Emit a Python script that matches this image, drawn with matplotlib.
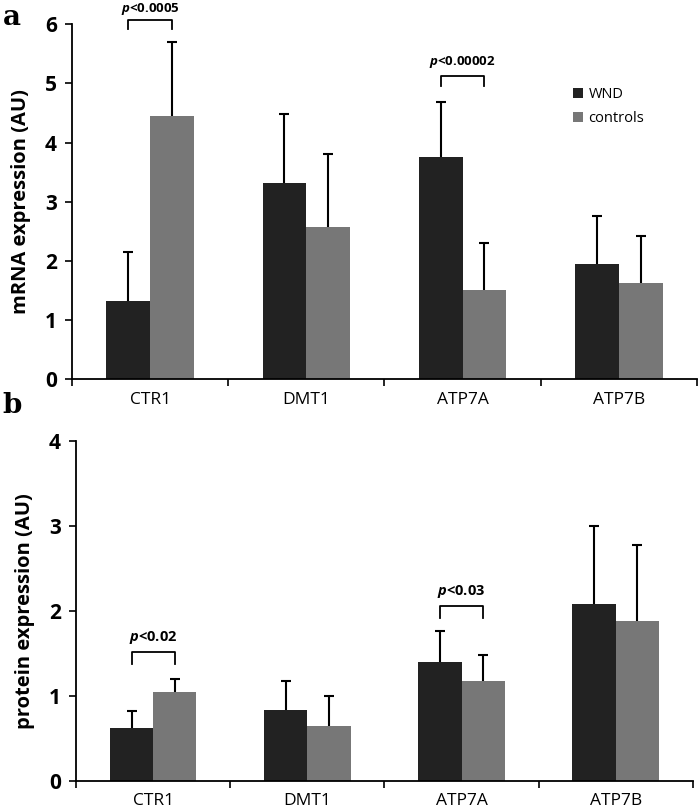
import numpy as np
import matplotlib
matplotlib.use("Agg")
from matplotlib import pyplot as plt

plt.rcParams['font.family'] = ['Open Sans', 'DejaVu Sans']
plt.rcParams['mathtext.fontset'] = 'custom'
plt.rcParams['mathtext.it'] = 'Open Sans:italic:bold'

genes = ["CTR1", "DMT1", "ATP7A", "ATP7B"]

# mRNA expression (panel a)
mrna_wnd = [1.32, 3.32, 3.75, 1.95]
mrna_wnd_top = [2.15, 4.48, 4.68, 2.75]
mrna_ctrl = [4.45, 2.58, 1.50, 1.63]
mrna_ctrl_top = [5.70, 3.80, 2.30, 2.42]

# protein expression (panel b)
prot_wnd = [0.62, 0.83, 1.40, 2.08]
prot_wnd_top = [0.82, 1.17, 1.76, 3.00]
prot_ctrl = [1.05, 0.65, 1.17, 1.88]
prot_ctrl_top = [1.20, 1.00, 1.48, 2.77]

c_wnd = "#222222"
c_ctrl = "#777777"

fig = plt.figure(figsize=(6.99, 8.10), dpi=100)
ax1 = fig.add_axes([0.103, 0.532, 0.894, 0.438])
ax2 = fig.add_axes([0.109, 0.036, 0.882, 0.420])

x = np.arange(len(genes))
w = 0.28


def draw_panel(ax, wnd, wnd_top, ctrl, ctrl_top, ymax, ylabel):
    ax.bar(x - w / 2, wnd, w, color=c_wnd, label="WND", zorder=2)
    ax.bar(x + w / 2, ctrl, w, color=c_ctrl, label="controls", zorder=2)
    # upper error bars only
    for xs, lo, hi in [(x - w / 2, wnd, wnd_top), (x + w / 2, ctrl, ctrl_top)]:
        ax.vlines(xs, lo, hi, color="black", lw=1.5, zorder=1)
        ax.plot(xs, hi, ls="none", marker="_", ms=7, mew=1.5,
                color="black", zorder=1)
    ax.set_xlim(-0.5, 3.5)
    ax.set_ylim(0, ymax)
    ax.set_yticks(range(ymax + 1))
    for s in ["top", "right"]:
        ax.spines[s].set_visible(False)
    ax.spines["left"].set_linewidth(1.3)
    ax.spines["bottom"].set_linewidth(1.3)
    ax.set_xticks(x)
    ax.set_xticklabels(genes, fontsize=12.5)
    ax.tick_params(axis="x", which="major", length=0, pad=9)
    ax.set_xticks(np.arange(-0.5, 4.0, 1.0), minor=True)
    ax.tick_params(axis="x", which="minor", length=5, width=1.2, direction="out")
    ax.tick_params(axis="y", length=5, width=1.2, labelsize=15, pad=6)
    for t in ax.get_yticklabels():
        t.set_fontweight("bold")
    ax.set_ylabel(ylabel, fontsize=14.5, fontweight="bold", labelpad=10)


def bracket(ax, x0, x1, ytop, ybot, ytext, label, size):
    ax.plot([x0, x0, x1, x1], [ybot, ytop, ytop, ybot], color="black",
            lw=1.3, clip_on=False)
    ax.text((x0 + x1) / 2, ytext, label, ha="center", va="bottom",
            fontsize=size, fontweight="bold", clip_on=False)


draw_panel(ax1, mrna_wnd, mrna_wnd_top, mrna_ctrl, mrna_ctrl_top, 6,
           "mRNA expression (AU)")
draw_panel(ax2, prot_wnd, prot_wnd_top, prot_ctrl, prot_ctrl_top, 4,
           "protein expression (AU)")

bracket(ax1, -w / 2, w / 2, 6.07, 5.92, 6.12, r"$p$<0.0005", 9.5)
bracket(ax1, 2 - w / 2, 2 + w / 2, 5.12, 4.96, 5.22, r"$p$<0.00002", 9.5)
bracket(ax2, -w / 2, w / 2, 1.51, 1.37, 1.58, r"$p$<0.02", 10.5)
bracket(ax2, 2 - w / 2, 2 + w / 2, 2.06, 1.92, 2.13, r"$p$<0.03", 10.5)

ax1.legend(loc="upper left", bbox_to_anchor=(0.78, 0.86), frameon=False,
           fontsize=10.5, handlelength=0.7, handleheight=0.7,
           handletextpad=0.4, labelspacing=0.6)

fig.text(0.004, 0.995, "a", fontsize=20, fontweight="bold",
         family="DejaVu Serif", va="top")
fig.text(0.004, 0.516, "b", fontsize=20, fontweight="bold",
         family="DejaVu Serif", va="top")

fig.savefig("out.png", dpi=100)
